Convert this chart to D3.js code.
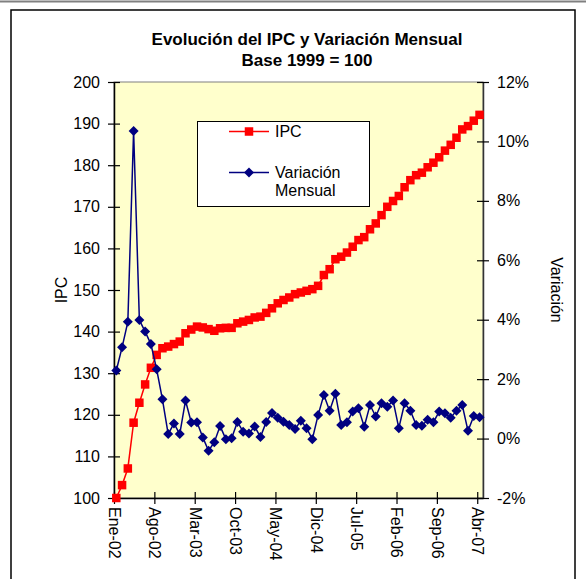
<!DOCTYPE html>
<html>
<head>
<meta charset="utf-8">
<script src="https://cdn.jsdelivr.net/npm/d3@7"></script>
<style>
  body { margin: 0; background: #fff; }
  svg text { font-family: Arial, "Liberation Sans", sans-serif; fill: #000; }
</style>
</head>
<body>
<div class="chart"></div>
<script>
// chart size
var width = 586;
var height = 579;

// data (Ene-02 .. Abr-07, monthly)
var months = ["Ene", "Feb", "Mar", "Abr", "May", "Jun", "Jul", "Ago", "Sep", "Oct", "Nov", "Dic"];
var ipc = [100.0, 103.1, 107.1, 118.1, 122.9, 127.3, 131.3, 134.4, 136.0, 136.4, 137.0, 137.6,
           139.6, 140.5, 141.2, 141.0, 140.6, 140.2, 140.8, 140.9, 140.9, 142.0, 142.4, 142.8,
           143.4, 143.6, 144.5, 145.6, 146.8, 147.6, 148.2, 149.0, 149.4, 149.8, 150.2, 151.0,
           153.6, 155.0, 157.4, 158.0, 159.0, 160.4, 162.0, 162.7, 164.6, 166.0, 168.0, 170.0,
           171.4, 172.6, 174.7, 176.4, 177.6, 178.2, 179.5, 180.6, 181.9, 183.5, 184.9, 186.6,
           188.6, 189.4, 190.7, 192.1];
var variacion = [2.29, 3.07, 3.93, 10.35, 3.99, 3.60, 3.18, 2.33, 1.32, 0.15, 0.51, 0.15,
                 1.28, 0.54, 0.55, 0.04, -0.41, -0.12, 0.42, -0.02, 0.01, 0.56, 0.23, 0.17,
                 0.41, 0.05, 0.56, 0.86, 0.70, 0.57, 0.46, 0.32, 0.60, 0.35, -0.02, 0.79,
                 1.47, 0.94, 1.51, 0.46, 0.55, 0.91, 1.02, 0.40, 1.13, 0.74, 1.19, 1.07,
                 1.28, 0.35, 1.19, 0.94, 0.46, 0.43, 0.63, 0.55, 0.91, 0.85, 0.70, 0.94,
                 1.13, 0.26, 0.76, 0.72];
var tickIdx = [0, 7, 14, 21, 28, 35, 42, 49, 56, 63];
var ipcTicks = [100, 110, 120, 130, 140, 150, 160, 170, 180, 190, 200];
var varTicks = [-2, 0, 2, 4, 6, 8, 10, 12];

function monthLabel(i) {
  return months[i % 12] + "-" + String(2 + Math.floor(i / 12)).padStart(2, "0");
}

// plot area
var pLeft = 114, pRight = 483, pTop = 82, pBottom = 498;

var svg = d3.select(".chart")
            .append("svg")
            .attr("width", width)
            .attr("height", height);

// outer frame
svg.append("line")
   .attr("x1", 0).attr("x2", width).attr("y1", 1.5).attr("y2", 1.5)
   .attr("stroke", "#808080").attr("stroke-width", 2);
svg.append("rect")
   .attr("x", 11).attr("y", 10).attr("width", 564).attr("height", 600)
   .attr("fill", "#fff").attr("stroke", "#000").attr("stroke-width", 1.5);

// scales
const xScale = d3.scaleLinear().domain([0, 64]).range([pLeft, pRight]);
const yScale = d3.scaleLinear().domain([100, 200]).range([pBottom, pTop]);
const y2Scale = d3.scaleLinear().domain([-2, 12]).range([pBottom, pTop]);
var off = 0.4; // points sit a little right of their tick

svg.append("rect")
   .attr("x", pLeft).attr("y", pTop)
   .attr("width", pRight - pLeft).attr("height", pBottom - pTop)
   .attr("fill", "#FFFFCC").attr("stroke", "#808080").attr("stroke-width", 1);

// titles
svg.append("text").attr("x", 307).attr("y", 45).attr("text-anchor", "middle")
   .style("font-size", "17px").style("font-weight", "bold")
   .text("Evolución del IPC y Variación Mensual");
svg.append("text").attr("x", 307).attr("y", 66).attr("text-anchor", "middle")
   .style("font-size", "17px").style("font-weight", "bold")
   .text("Base 1999 = 100");

// axes
const yAxis = d3.axisLeft(yScale).tickValues(ipcTicks).tickSizeInner(6).tickSizeOuter(0).tickPadding(8);
const y2Axis = d3.axisRight(y2Scale).tickValues(varTicks).tickSizeInner(6).tickSizeOuter(0).tickPadding(8)
                 .tickFormat(d => d + "%");
const xAxis = d3.axisBottom(xScale).tickValues(tickIdx).tickSizeInner(6).tickSizeOuter(0)
                .tickFormat(monthLabel);

function styleAxis(g) {
  g.select(".domain").attr("stroke", "#000").attr("stroke-width", 1.5);
  g.selectAll(".tick line").attr("stroke", "#000").attr("stroke-width", 1.2);
  g.selectAll(".tick text").style("font-size", "16px").style("font-family", "Arial, 'Liberation Sans', sans-serif");
}

var gy = svg.append("g").attr("transform", "translate(" + pLeft + ",0)").call(yAxis);
gy.selectAll(".tick line").attr("x1", 6);
styleAxis(gy);

var gy2 = svg.append("g").attr("transform", "translate(" + pRight + ",0)").call(y2Axis);
gy2.selectAll(".tick line").attr("x1", -6);
styleAxis(gy2);
gy2.select(".domain").attr("stroke", "#333");

var gx = svg.append("g").attr("transform", "translate(0," + pBottom + ")").call(xAxis);
gx.selectAll(".tick line").attr("y1", -6);
styleAxis(gx);
gx.selectAll(".tick text")
  .attr("transform", "rotate(90)")
  .attr("text-anchor", "start")
  .attr("x", 9).attr("y", 0).attr("dy", "0.35em");

// axis titles
svg.append("text").attr("transform", "translate(67,290) rotate(-90)")
   .attr("text-anchor", "middle").style("font-size", "16px").text("IPC");
svg.append("text").attr("transform", "translate(551,290) rotate(90)")
   .attr("text-anchor", "middle").style("font-size", "16px").text("Variación");

// IPC series
var ipcLine = d3.line().x((d, i) => xScale(i + off)).y(d => yScale(d));
svg.append("path").datum(ipc)
   .attr("d", ipcLine).attr("fill", "none").attr("stroke", "#FF0000").attr("stroke-width", 1.5);
svg.selectAll(".sq").data(ipc).enter().append("rect")
   .attr("class", "sq")
   .attr("x", (d, i) => xScale(i + off) - 4.25)
   .attr("y", d => yScale(d) - 4.25)
   .attr("width", 8.5).attr("height", 8.5)
   .attr("fill", "#FF0000");

// variation series
var varLine = d3.line().x((d, i) => xScale(i + off)).y(d => y2Scale(d));
svg.append("path").datum(variacion)
   .attr("d", varLine).attr("fill", "none").attr("stroke", "#000080").attr("stroke-width", 1.5);
var diamond = d3.symbol().type(d3.symbolSquare).size(50);
svg.selectAll(".dm").data(variacion).enter().append("path")
   .attr("class", "dm")
   .attr("d", diamond)
   .attr("transform", (d, i) => "translate(" + xScale(i + off) + "," + y2Scale(d) + ") rotate(45)")
   .attr("fill", "#000080");

// legend
var lg = svg.append("g");
lg.append("rect").attr("x", 197.5).attr("y", 121.5).attr("width", 172).attr("height", 85)
  .attr("fill", "#fff").attr("stroke", "#000").attr("stroke-width", 1);
lg.append("line").attr("x1", 229).attr("x2", 269).attr("y1", 131.5).attr("y2", 131.5)
  .attr("stroke", "#FF0000").attr("stroke-width", 1.5);
lg.append("rect").attr("x", 244.75).attr("y", 127.25).attr("width", 8.5).attr("height", 8.5).attr("fill", "#FF0000");
lg.append("text").attr("x", 275).attr("y", 137).style("font-size", "16px").text("IPC");
lg.append("line").attr("x1", 229).attr("x2", 269).attr("y1", 172.5).attr("y2", 172.5)
  .attr("stroke", "#000080").attr("stroke-width", 1.5);
lg.append("path").attr("d", diamond)
  .attr("transform", "translate(249,172.5) rotate(45)").attr("fill", "#000080");
lg.append("text").attr("x", 275).attr("y", 178).style("font-size", "16px").text("Variación");
lg.append("text").attr("x", 275).attr("y", 196).style("font-size", "16px").text("Mensual");
</script>
</body>
</html>
